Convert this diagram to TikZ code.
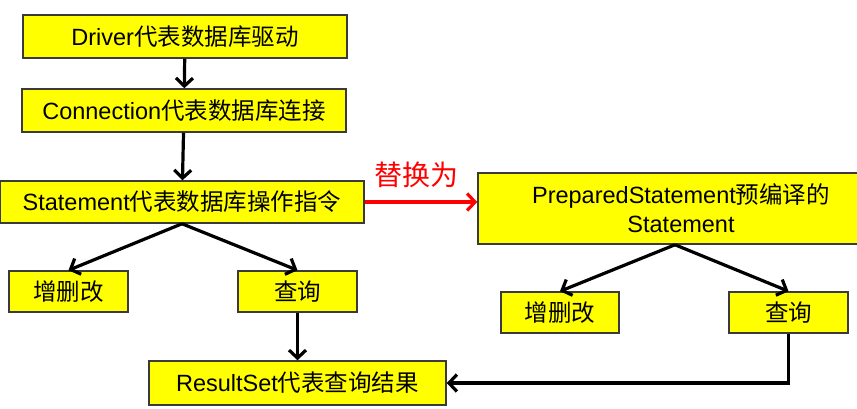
\documentclass[tikz,border=0pt]{standalone}
\usepackage{fontspec}
\setmainfont{Liberation Sans}
\newfontfamily\cjk{Noto Sans CJK SC}
\usetikzlibrary{arrows.meta,positioning}
\definecolor{jdyel}{HTML}{FFFF00}
\definecolor{jdedge}{HTML}{3A3A3A}
\definecolor{jdred}{HTML}{FF0000}
\tikzset{
  obj/.style  = {rectangle, draw=jdedge, line width=1.5pt, fill=jdyel,
                 inner sep=0pt, align=center,
                 font=\fontsize{23.5}{29}\selectfont},
  ed/.style   = {-{Straight Barb[length=8pt,width=17pt]}, draw=black,
                 line width=3.2pt},
  edr/.style  = {-{Straight Barb[length=8pt,width=17pt]}, draw=jdred,
                 line width=3.2pt},
  lbl/.style  = {font=\fontsize{28}{30}\selectfont\cjk, text=jdred,
                 inner sep=1pt},
}

\begin{document}
\begin{tikzpicture}[x=1pt,y=-1pt]
  \useasboundingbox (0,0) rectangle (857,408);
  % left column
  \node[obj, minimum width=324pt, minimum height=43pt] (drv) at (185,36.5)
        {Driver{\cjk 代表数据库驱动}};
  \node[obj, minimum width=324pt, minimum height=43pt] (conn) at (184,110.5)
        {Connection{\cjk 代表数据库连接}};
  \node[obj, minimum width=364pt, minimum height=42pt] (stmt) at (182,202)
        {Statement{\cjk 代表数据库操作指令}};
  \node[obj, minimum width=119pt, minimum height=41pt] (cud) at (68.5,291.5)
        {\cjk 增删改};
  \node[obj, minimum width=119pt, minimum height=41pt] (qry) at (297.5,291.5)
        {\cjk 查询};
  \node[obj, minimum width=297pt, minimum height=44pt] (rs) at (297.5,383)
        {ResultSet{\cjk 代表查询结果}};
  % right column
  \node[obj, minimum width=406pt, minimum height=71pt] (pst) at (681,208.5)
        {PreparedStatement{\cjk 预编译的}\\Statement};
  \node[obj, minimum width=118pt, minimum height=41pt] (pcud) at (560,312.5)
        {\cjk 增删改};
  \node[obj, minimum width=119pt, minimum height=41pt] (pqry) at (788.5,312.5)
        {\cjk 查询};

  \draw[ed] (drv) -- (conn);
  \draw[ed] (conn) -- (stmt);
  \draw[ed] (stmt.south) -- (cud.north);
  \draw[ed] (stmt.south) -- (qry.north);
  \draw[ed] (qry) -- (rs);
  \draw[edr] (stmt) -- node[lbl, above=12pt, xshift=-5pt]{替换为} (stmt.east -| pst.west);
  \draw[ed] ([xshift=-6pt]pst.south) -- (pcud.north);
  \draw[ed] ([xshift=-6pt]pst.south) -- (pqry.north);
  \draw[ed] (pqry.south) |- (rs.east);
\end{tikzpicture}
\end{document}
